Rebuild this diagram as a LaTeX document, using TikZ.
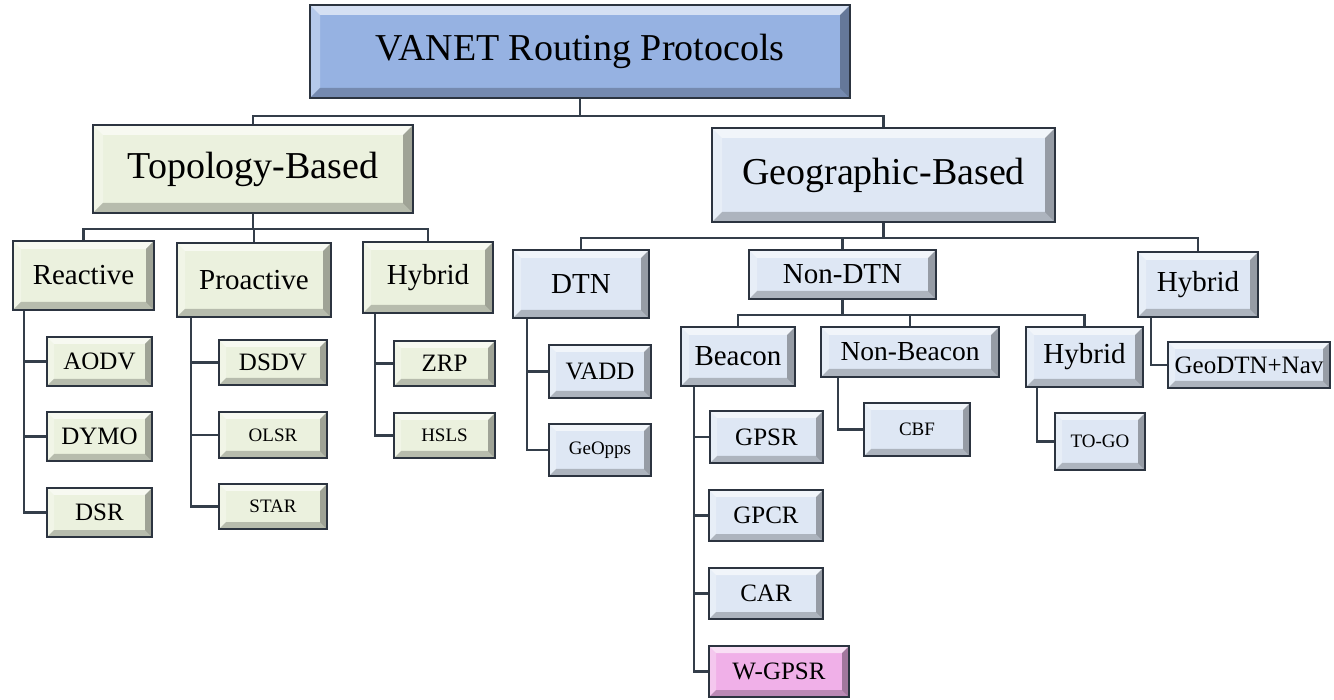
\documentclass[tikz,border=0pt]{standalone}
\usepackage{fontspec}
\setmainfont{Liberation Serif}
\definecolor{rootc}{RGB}{150,178,226}
\definecolor{greenc}{RGB}{235,241,222}
\definecolor{bluec}{RGB}{222,231,244}
\definecolor{pinkc}{RGB}{240,176,232}
\definecolor{edgec}{RGB}{44,52,64}
\definecolor{connc}{RGB}{52,62,74}
\newcommand{\bev}{7pt}
\tikzset{
  setbev/.code={\renewcommand{\bev}{#1}},
  box/.style={draw=edgec, line width=2.2pt, inner sep=0pt, rectangle, align=center,
    path picture={
      \fill[white,opacity=.6] (path picture bounding box.north west) -- (path picture bounding box.north east)
        -- ([xshift=-\bev,yshift=-\bev]path picture bounding box.north east)
        -- ([xshift=\bev,yshift=-\bev]path picture bounding box.north west) -- cycle;
      \fill[white,opacity=.3] (path picture bounding box.north west) -- (path picture bounding box.south west)
        -- ([xshift=\bev,yshift=\bev]path picture bounding box.south west)
        -- ([xshift=\bev,yshift=-\bev]path picture bounding box.north west) -- cycle;
      \fill[black,opacity=.22] (path picture bounding box.south west) -- (path picture bounding box.south east)
        -- ([xshift=-\bev,yshift=\bev]path picture bounding box.south east)
        -- ([xshift=\bev,yshift=\bev]path picture bounding box.south west) -- cycle;
      \fill[black,opacity=.32] (path picture bounding box.north east) -- (path picture bounding box.south east)
        -- ([xshift=-\bev,yshift=\bev]path picture bounding box.south east)
        -- ([xshift=-\bev,yshift=-\bev]path picture bounding box.north east) -- cycle;
    }},
  sz/.style n args={2}{minimum width=#1pt, minimum height=#2pt},
  fa/.style={font=\fontsize{38}{40}\selectfont, setbev=10pt},
  fb/.style={font=\fontsize{29}{31}\selectfont, setbev=8pt},
  fbn/.style={font=\fontsize{27.5}{29}\selectfont, setbev=8pt},
  fc/.style={font=\fontsize{25}{27}\selectfont, setbev=7pt},
  fd/.style={font=\fontsize{19}{21}\selectfont, setbev=7pt},
  gr/.style={box, fill=greenc},
  bl/.style={box, fill=bluec},
  conn/.style={draw=connc, line width=2.6pt},
}
\begin{document}
\begin{tikzpicture}[x=1pt,y=-1pt]
\useasboundingbox (0,0) rectangle (1334,700);
% root
\node[box, fill=rootc, fa, sz={540}{93}] (root) at (580,51.5) {VANET Routing Protocols};
\node[gr, fa, sz={320}{88}] (topo) at (253,169) {Topology-Based};
\node[bl, fa, sz={343}{94}] (geo) at (883.5,175) {Geographic-Based};
% topology children
\node[gr, fb, sz={141}{69}] (reac) at (83.5,275.5) {Reactive};
\node[gr, fb, sz={154}{74}] (proa) at (254,280) {Proactive};
\node[gr, fb, sz={130}{71}] (thyb) at (428,277.5) {Hybrid};
\node[gr, fc, sz={105}{49}] (aodv) at (99.5,361.5) {AODV};
\node[gr, fc, sz={105}{49}] (dymo) at (99.5,436.5) {DYMO};
\node[gr, fc, sz={105}{49}] (dsr) at (99.5,512.5) {DSR};
\node[gr, fc, sz={108}{45}] (dsdv) at (273,362.5) {DSDV};
\node[gr, fd, sz={108}{46}] (olsr) at (273,435) {OLSR};
\node[gr, fd, sz={108}{45}] (star) at (273,506.5) {STAR};
\node[gr, fc, sz={101}{45}] (zrp) at (444.5,363.5) {ZRP};
\node[gr, fd, sz={101}{45}] (hsls) at (444.5,435.5) {HSLS};
% geographic children
\node[bl, fb, sz={136}{68}] (dtn) at (581,284) {DTN};
\node[bl, fb, sz={187}{49}] (ndtn) at (842.5,274.5) {Non-DTN};
\node[bl, fb, sz={120}{65}] (ghyb) at (1198,284.5) {Hybrid};
\node[bl, fb, sz={114}{59}] (beac) at (738,356.5) {Beacon};
\node[bl, fbn, sz={178}{50}] (nbeac) at (910,352) {Non-Beacon};
\node[bl, fb, sz={117}{60}] (nhyb) at (1084.5,357) {Hybrid};
\node[bl, fc, sz={102}{53}] (vadd) at (600,371.5) {VADD};
\node[bl, fd, sz={102}{52}] (geop) at (600,450) {GeOpps};
\node[bl, fc, sz={162}{46}] (gdtn) at (1249,365) {GeoDTN+Nav};
\node[bl, fd, sz={106}{53}] (cbf) at (917,429.5) {CBF};
\node[bl, fd, sz={90}{57}] (togo) at (1100,441.5) {TO-GO};
\node[bl, fc, sz={113}{52}] (gpsr) at (766.5,437) {GPSR};
\node[bl, fc, sz={114}{51}] (gpcr) at (766,515.5) {GPCR};
\node[bl, fc, sz={114}{51}] (car) at (766,593.5) {CAR};
\node[box, fill=pinkc, fc, sz={140}{51}] (wgpsr) at (779,671.5) {W-GPSR};
% bus connectors
\draw[conn] (root.south) -- ++(0,17) -| (topo.north);
\draw[conn] (root.south) -- ++(0,17) -| (geo.north);
\draw[conn] (topo.south) -- ++(0,15) -| (reac.north);
\draw[conn] (topo.south) -- ++(0,15) -| (proa.north);
\draw[conn] (topo.south) -- ++(0,15) -| (thyb.north);
\draw[conn] (geo.south) -- ++(0,15) -| (dtn.north);
\draw[conn] (geo.south) -- ++(0,15) -| (ndtn.north);
\draw[conn] (geo.south) -- ++(0,15) -| (ghyb.north);
\draw[conn] (ndtn.south) -- ++(0,15) -| (beac.north);
\draw[conn] (ndtn.south) -- ++(0,15) -| (nbeac.north);
\draw[conn] (ndtn.south) -- ++(0,15) -| (nhyb.north);
% leaf connectors
\foreach \c in {aodv,dymo,dsr} \draw[conn] ([xshift=12pt]reac.south west) |- (\c.west);
\foreach \c in {dsdv,olsr,star} \draw[conn] ([xshift=15pt]proa.south west) |- (\c.west);
\foreach \c in {zrp,hsls} \draw[conn] ([xshift=13pt]thyb.south west) |- (\c.west);
\foreach \c in {vadd,geop} \draw[conn] ([xshift=15pt]dtn.south west) |- (\c.west);
\draw[conn] ([xshift=14pt]ghyb.south west) |- (gdtn.west);
\draw[conn] ([xshift=18pt]nbeac.south west) |- (cbf.west);
\draw[conn] ([xshift=12pt]nhyb.south west) |- (togo.west);
\foreach \c in {gpsr,gpcr,car,wgpsr} \draw[conn] ([xshift=14pt]beac.south west) |- (\c.west);
\end{tikzpicture}
\end{document}
